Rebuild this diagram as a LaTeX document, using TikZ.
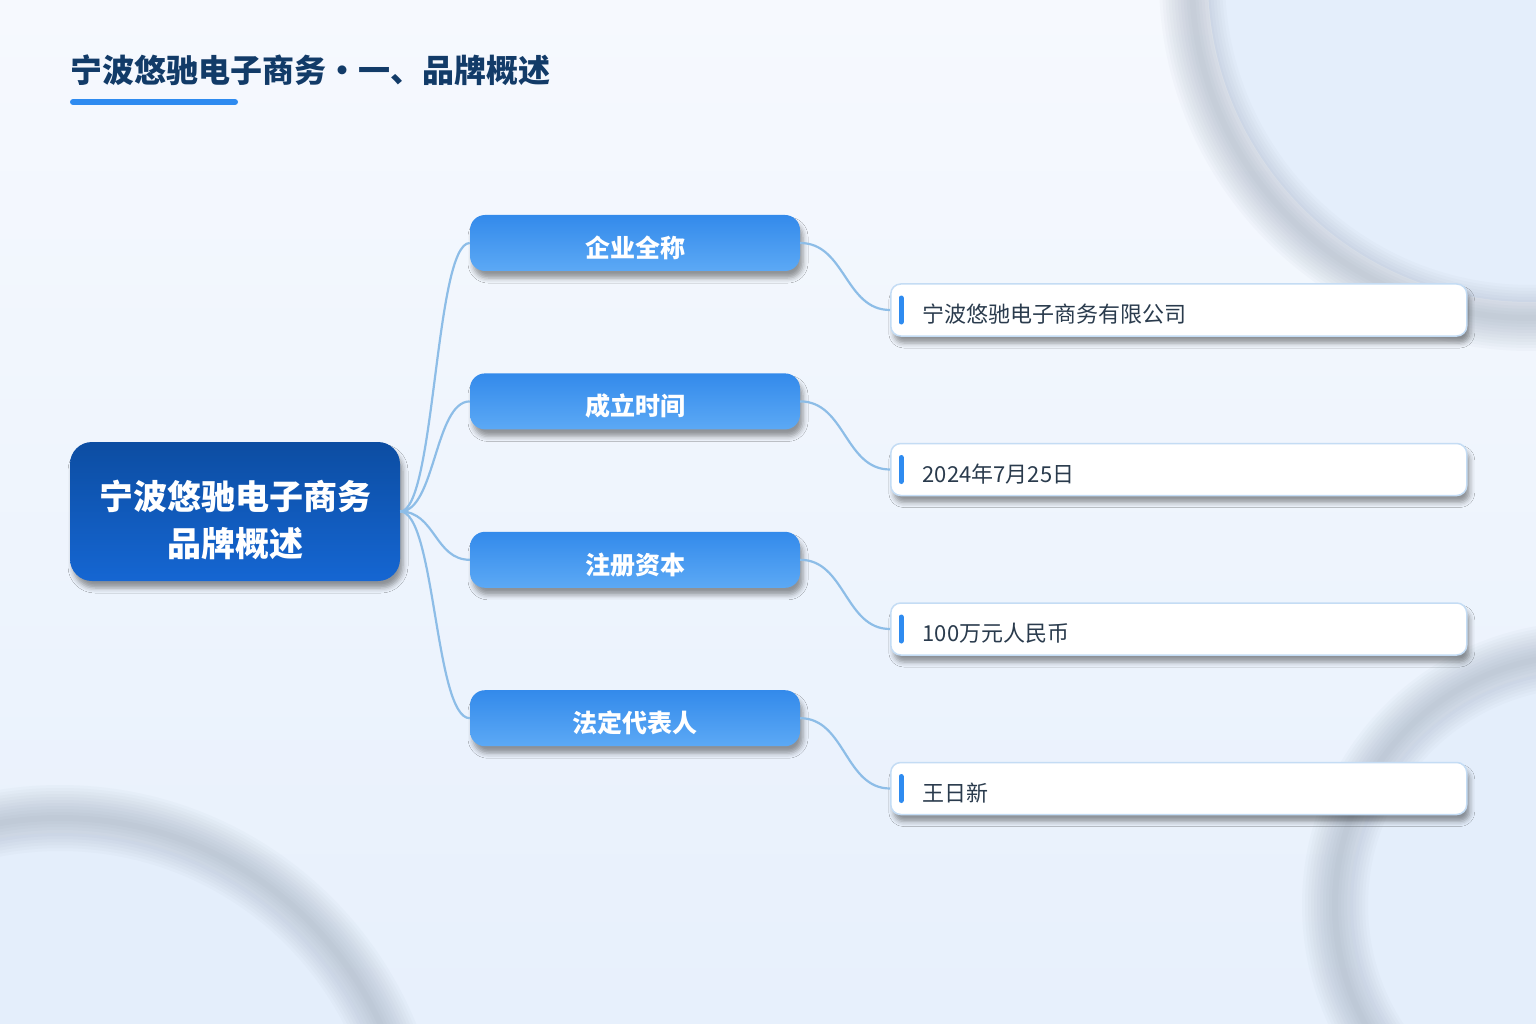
\documentclass[tikz,border=0pt]{standalone}
\usepackage{fontspec}
\setmainfont{Noto Sans CJK SC}
\usetikzlibrary{positioning,shadows.blur}

\definecolor{bgtop}{HTML}{F6F9FE}
\definecolor{bgbottom}{HTML}{E7F0FC}
\definecolor{ringfill}{HTML}{E4EEFB}
\definecolor{ringgray}{HTML}{7F8DA3}
\definecolor{titlecol}{HTML}{123B68}
\definecolor{accent}{HTML}{2E8BF0}
\definecolor{roottop}{HTML}{0C4DA2}
\definecolor{rootbottom}{HTML}{1566D2}
\definecolor{branchtop}{HTML}{338AEB}
\definecolor{branchbottom}{HTML}{5CA9F5}
\definecolor{leafborder}{HTML}{C4DCF4}
\definecolor{linkcol}{HTML}{8DBDE7}
\definecolor{leaftext}{HTML}{2A3B4D}

\tikzset{
  nodeshadow/.style={blur shadow={shadow xshift=3pt, shadow yshift=-7pt, shadow blur radius=5pt, shadow opacity=40}},
  rootnode/.style={rounded corners=22pt, minimum width=330pt, minimum height=139pt,
    top color=roottop, bottom color=rootbottom, text=white, align=center,
    text height=89pt, text depth=0pt,
    font=\fontsize{34}{47}\selectfont\bfseries, nodeshadow},
  branchnode/.style={rounded corners=15pt, minimum width=330pt, minimum height=56pt,
    top color=branchtop, bottom color=branchbottom, text=white,
    text height=29pt, text depth=0pt,
    font=\fontsize{25}{30}\selectfont\bfseries, nodeshadow},
  leafnode/.style={draw=leafborder, line width=1.5pt, fill=white, rounded corners=10pt,
    minimum height=52pt, inner xsep=32pt, text width=512pt, align=left, anchor=west,
    text height=25pt, text depth=0pt,
    text=leaftext, font=\fontsize{22}{26}\selectfont, nodeshadow},
  bar/.style={draw=accent, line width=5pt, line cap=round},
  link/.style={draw=linkcol, line width=2.2pt},
  ringshade/.style={draw=ringgray, opacity=0.04}
}

\begin{document}
\begin{tikzpicture}[x=1pt,y=-1pt]

 % Background
\useasboundingbox (0,0) rectangle (1536,1024);
\fill[top color=bgtop, bottom color=bgbottom] (0,0) rectangle (1536,1024);
\begin{scope}
  \clip (0,0) rectangle (1536,1024);
  \fill[ringfill] (1530,-20) circle (322pt);
  \fill[ringfill] (60,1170) circle (337pt);
  \fill[ringfill] (1585,905) circle (235pt);
  \foreach \w in {6,12,...,66} {
    \draw[ringshade, line width=\w pt] (1530,-20) circle (338pt);
    \draw[ringshade, line width=\w pt] (60,1170) circle (352pt);
    \draw[ringshade, line width=\w pt] (1585,905) circle (250pt);
  }
\end{scope}

 % Title
\node[anchor=west, inner sep=0pt, text=titlecol, font=\fontsize{32}{36}\selectfont\bfseries] (title) at (70,70) {宁波悠驰电子商务・一、品牌概述};
\draw[accent, line width=6pt, line cap=round] (73,102) -- (235,102);

 % Nodes
\node[rootnode] (root) at (235,511.5) {宁波悠驰电子商务\\品牌概述};

\node[branchnode] (name) at (635,243) {企业全称};
\node[branchnode, below=102pt of name] (founded) {成立时间};
\node[branchnode, below=102pt of founded] (capital) {注册资本};
\node[branchnode, below=102pt of capital] (legal) {法定代表人};

\node[leafnode] (namev) at (890,310) {宁波悠驰电子商务有限公司};
\node[leafnode, below=106pt of namev.south west, anchor=north west] (foundedv) {2024年7月25日};
\node[leafnode, below=106pt of foundedv.south west, anchor=north west] (capitalv) {100万元人民币};
\node[leafnode, below=106pt of capitalv.south west, anchor=north west] (legalv) {王日新};

\foreach \v in {namev,foundedv,capitalv,legalv}
  \draw[bar] ([xshift=11pt,yshift=12pt]\v.west) -- ([xshift=11pt,yshift=-12pt]\v.west);

 % Connect nodes
\foreach \b/\v in {name/namev,founded/foundedv,capital/capitalv,legal/legalv} {
  \draw[link] (root.east) .. controls +(35,0) and +(-35,0) .. (\b.west);
  \draw[link] (\b.east) .. controls +(45,0) and +(-45,0) .. (\v.west);
}

\end{tikzpicture}
\end{document}
